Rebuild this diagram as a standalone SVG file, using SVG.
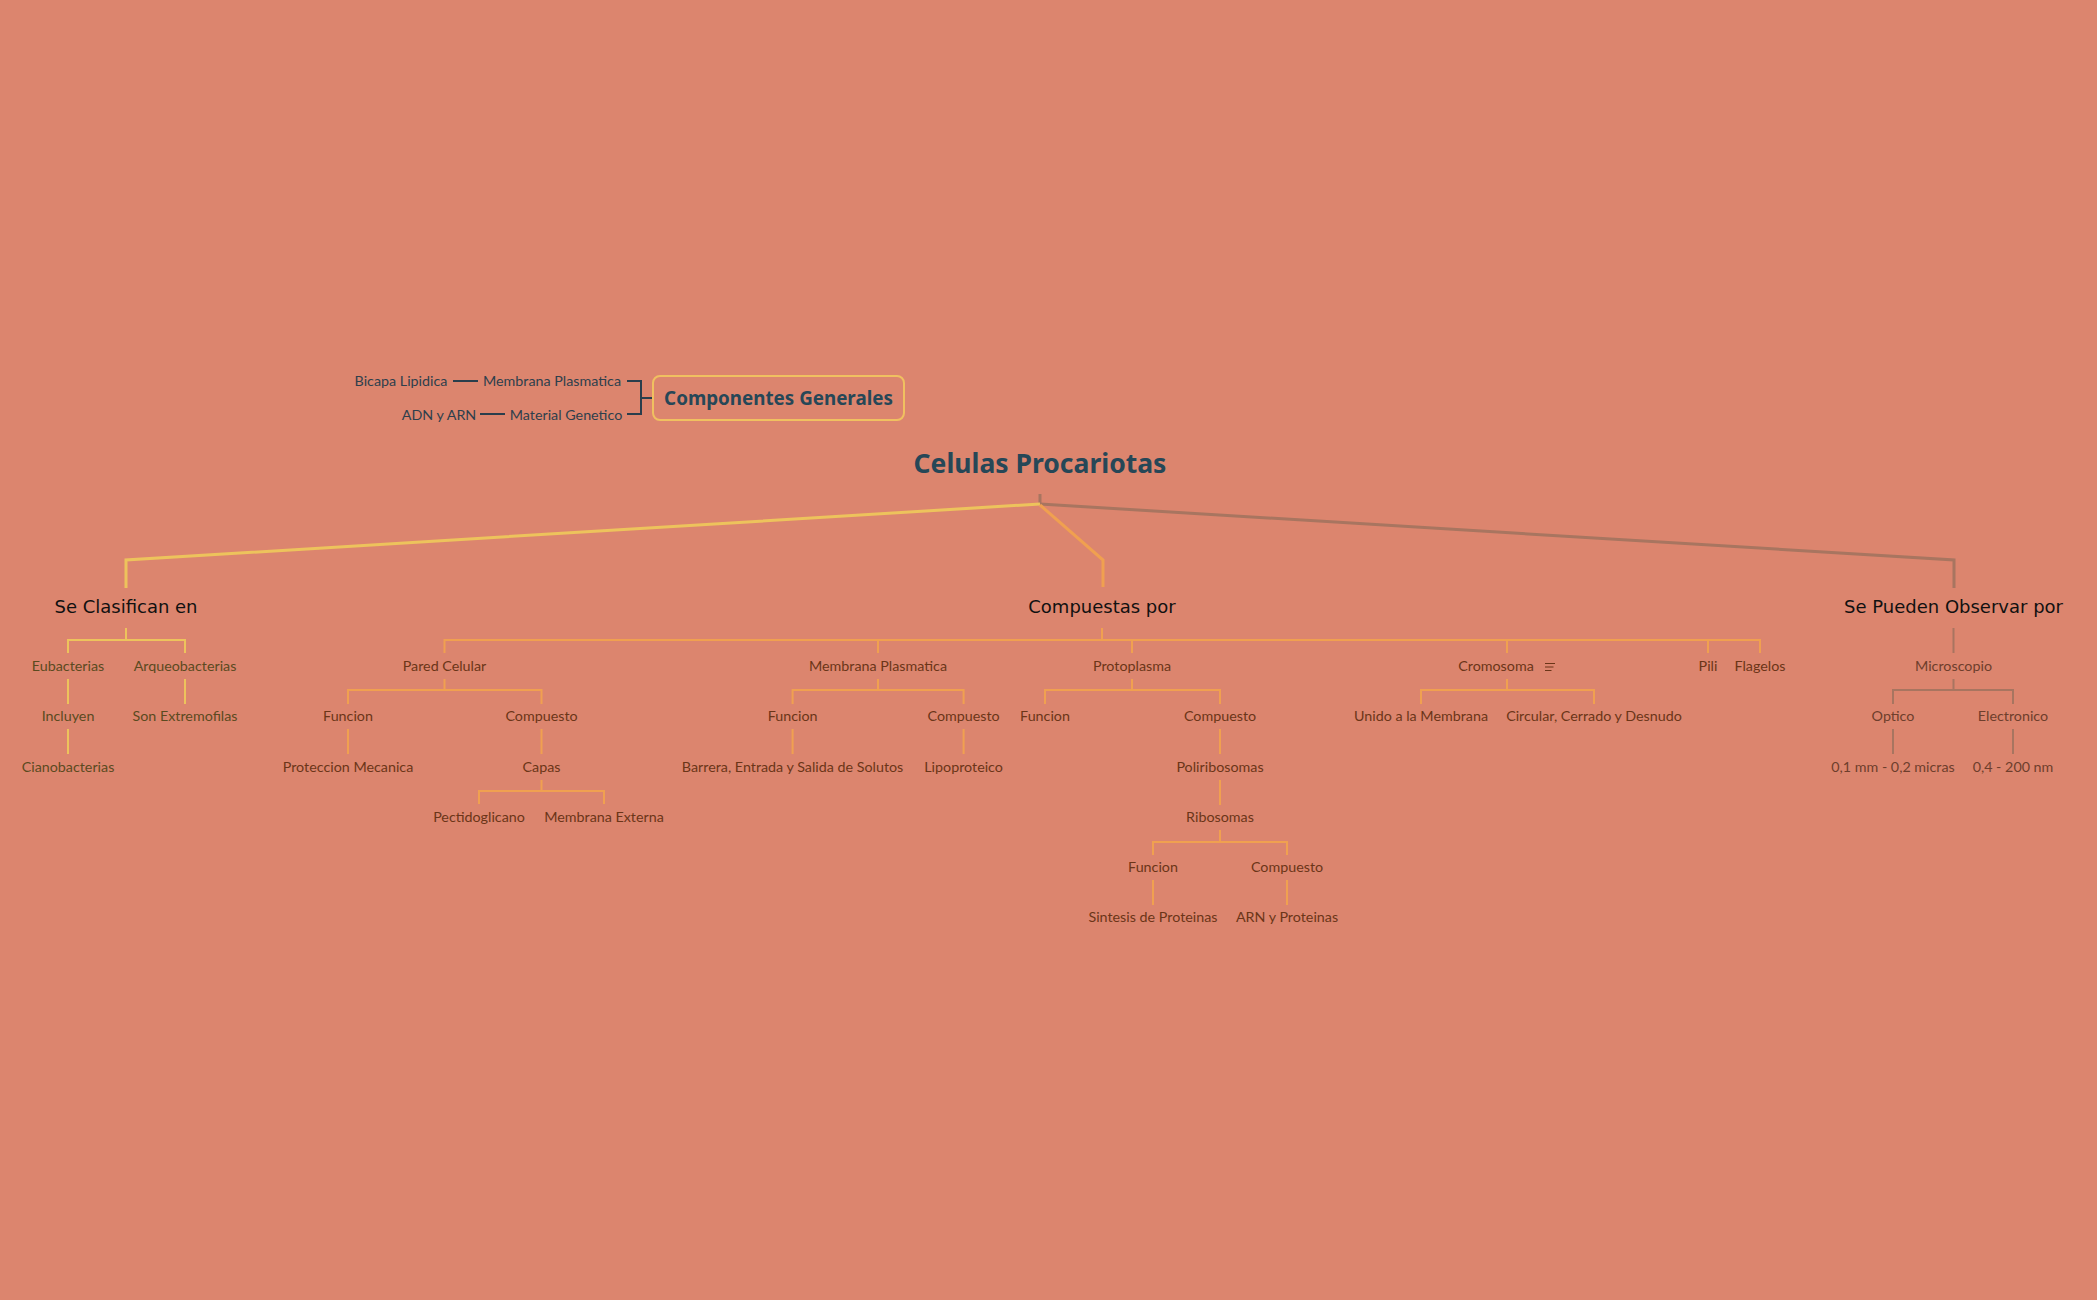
<svg xmlns="http://www.w3.org/2000/svg" width="2097" height="1300" viewBox="0 0 2097 1300">
<style>
.bg{fill:#dc856e}
.t{font-family:Lato,"Noto Sans",sans-serif;font-size:14.3px;text-anchor:middle}
.cg{fill:#2e3f4c}
.y{fill:#5b4a1f}
.o{fill:#6b3518}
.g{fill:#6e3e2c}
.l1{font-family:"DejaVu Sans","Noto Sans",sans-serif;font-size:18px;fill:#111;text-anchor:middle}
.title{font-family:"Noto Sans",sans-serif;font-weight:bold;font-size:26.5px;fill:#264757;text-anchor:middle}
.cgt{font-family:"Noto Sans",sans-serif;font-weight:bold;font-size:18.8px;fill:#264757;text-anchor:middle}
.ly{fill:none;stroke:#edc35c}
.lo{fill:none;stroke:#f0a050}
.lg{fill:none;stroke:#a87560}
.ld{fill:none;stroke:#2a3e4c;stroke-width:2}
.m{stroke-width:3}
.s{stroke-width:2}
</style>
<rect class="bg" x="0" y="0" width="2097" height="1300"/>
<g id="connectors">
  <path class="ld" d="M453 381H478M480 414H505M627 381H641V414H627M641 398H653"/>
  <path class="lg m" d="M1040 494V505"/>
  <path class="ly m" d="M1040 504L126 560V588"/>
  <path class="lg m" d="M1040 504L1954 560V588"/>
  <path class="lo m" d="M1040 505L1103 560V587"/>
  <path class="ly s" d="M126 628V640M68 653V640H185V653M68 679V704M185 679V704M68 729V754"/>
  <path class="lo s" d="M1102 628V640M444.5 653V640H1760V653M878 640V653M1132 640V653M1507 640V653M1708 640V653"/>
  <path class="lo s" d="M444.5 679V690M348 704V690H541.5V704M348 729V754M541.5 729V754M541.5 780V791M479 804V791H604V804"/>
  <path class="lo s" d="M878 679V690M792.6 704V690H963.6V704M792.6 729V754M963.6 729V754"/>
  <path class="lo s" d="M1132 679V690M1045 704V690H1220V704M1220 729V754M1220 780V805M1220 830V842M1153 855V842H1287V855M1153 880V905M1287 880V905"/>
  <path class="lo s" d="M1507 679V690M1421 704V690H1594V704"/>
  <path class="lg s" d="M1953.5 628V653M1953.5 679V690M1893 704V690H2013V704M1893 729V754M2013 729V754"/>
</g>
<g id="componentes-generales">
  <rect x="653" y="376" width="251" height="44" rx="7" fill="none" stroke="#f0c060" stroke-width="2"/>
  <text class="cgt" x="778.5" y="404.5">Componentes Generales</text>
</g>
<g id="membrana-plasmatica-cg"><text class="t cg" x="552" y="386">Membrana Plasmatica</text></g>
<g id="bicapa-lipidica"><text class="t cg" x="401" y="386">Bicapa Lipidica</text></g>
<g id="material-genetico"><text class="t cg" x="566" y="420">Material Genetico</text></g>
<g id="adn-arn"><text class="t cg" x="439" y="420">ADN y ARN</text></g>
<g id="celulas-procariotas"><text class="title" x="1040" y="473">Celulas Procariotas</text></g>
<g id="se-clasifican-en"><text class="l1" x="126" y="613">Se Clasifican en</text></g>
<g id="compuestas-por"><text class="l1" x="1102" y="613">Compuestas por</text></g>
<g id="se-pueden-observar-por"><text class="l1" x="1953.5" y="613">Se Pueden Observar por</text></g>
<g id="eubacterias"><text class="t y" x="68" y="671">Eubacterias</text></g>
<g id="arqueobacterias"><text class="t y" x="185" y="671">Arqueobacterias</text></g>
<g id="incluyen"><text class="t y" x="68" y="721">Incluyen</text></g>
<g id="son-extremofilas"><text class="t y" x="185" y="721">Son Extremofilas</text></g>
<g id="cianobacterias"><text class="t y" x="68" y="772">Cianobacterias</text></g>
<g id="pared-celular"><text class="t o" x="444.5" y="671">Pared Celular</text></g>
<g id="pc-funcion"><text class="t o" x="348" y="721">Funcion</text></g>
<g id="pc-compuesto"><text class="t o" x="541.5" y="721">Compuesto</text></g>
<g id="proteccion-mecanica"><text class="t o" x="348" y="772">Proteccion Mecanica</text></g>
<g id="capas"><text class="t o" x="541.5" y="772">Capas</text></g>
<g id="pectidoglicano"><text class="t o" x="479" y="822">Pectidoglicano</text></g>
<g id="membrana-externa"><text class="t o" x="604" y="822">Membrana Externa</text></g>
<g id="membrana-plasmatica"><text class="t o" x="878" y="671">Membrana Plasmatica</text></g>
<g id="mp-funcion"><text class="t o" x="792.6" y="721">Funcion</text></g>
<g id="mp-compuesto"><text class="t o" x="963.6" y="721">Compuesto</text></g>
<g id="barrera"><text class="t o" x="792.6" y="772">Barrera, Entrada y Salida de Solutos</text></g>
<g id="lipoproteico"><text class="t o" x="963.6" y="772">Lipoproteico</text></g>
<g id="protoplasma"><text class="t o" x="1132" y="671">Protoplasma</text></g>
<g id="pr-funcion"><text class="t o" x="1045" y="721">Funcion</text></g>
<g id="pr-compuesto"><text class="t o" x="1220" y="721">Compuesto</text></g>
<g id="poliribosomas"><text class="t o" x="1220" y="772">Poliribosomas</text></g>
<g id="ribosomas"><text class="t o" x="1220" y="822">Ribosomas</text></g>
<g id="rb-funcion"><text class="t o" x="1153" y="872">Funcion</text></g>
<g id="rb-compuesto"><text class="t o" x="1287" y="872">Compuesto</text></g>
<g id="sintesis"><text class="t o" x="1153" y="922">Sintesis de Proteinas</text></g>
<g id="arn-proteinas"><text class="t o" x="1287" y="922">ARN y Proteinas</text></g>
<g id="cromosoma">
  <text class="t o" x="1496" y="671">Cromosoma</text>
  <path d="M1545 663.5H1555M1545 667H1553.5M1545 670.5H1551.5" stroke="#6b3518" stroke-width="1.2" fill="none"/>
</g>
<g id="unido"><text class="t o" x="1421" y="721">Unido a la Membrana</text></g>
<g id="circular"><text class="t o" x="1594" y="721">Circular, Cerrado y Desnudo</text></g>
<g id="pili"><text class="t o" x="1708" y="671">Pili</text></g>
<g id="flagelos"><text class="t o" x="1760" y="671">Flagelos</text></g>
<g id="microscopio"><text class="t g" x="1953.5" y="671">Microscopio</text></g>
<g id="optico"><text class="t g" x="1893" y="721">Optico</text></g>
<g id="electronico"><text class="t g" x="2013" y="721">Electronico</text></g>
<g id="optico-rango"><text class="t g" x="1893" y="772">0,1 mm - 0,2 micras</text></g>
<g id="electronico-rango"><text class="t g" x="2013" y="772">0,4 - 200 nm</text></g>
</svg>
